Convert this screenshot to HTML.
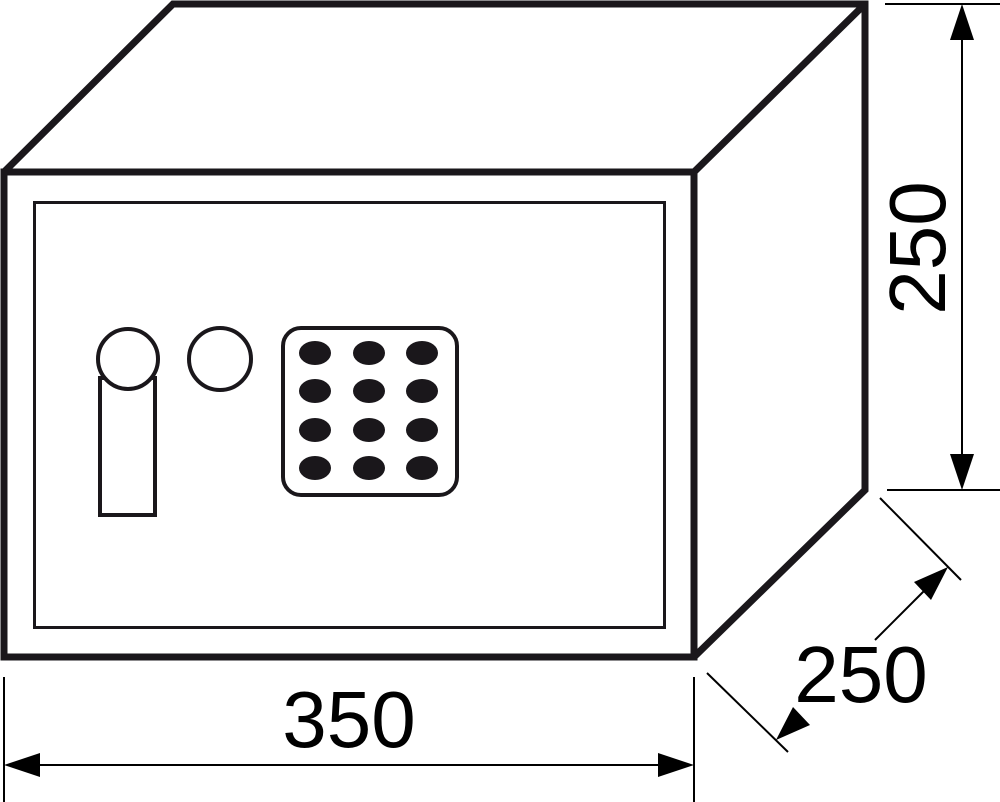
<!DOCTYPE html>
<html><head><meta charset="utf-8"><style>html,body{margin:0;padding:0;background:#fff}svg{display:block}</style></head>
<body>
<svg width="1000" height="802" viewBox="0 0 1000 802" xmlns="http://www.w3.org/2000/svg">
<g fill="none" stroke="#1a171b" stroke-linejoin="miter">
  <path d="M4 172 L173 4 L865 4 L865 490 L694 657" stroke-width="7"/>
  <path d="M694 172 L865 4" stroke-width="7"/>
  <rect x="4" y="172" width="690" height="485" stroke-width="7"/>
  <rect x="34.5" y="202.5" width="630" height="425" stroke-width="3"/>
  <rect x="100" y="378" width="55" height="137" stroke-width="4" fill="#fff"/>
  <circle cx="128" cy="359" r="30" stroke-width="4" fill="#fff"/>
  <circle cx="220" cy="359" r="31" stroke-width="4"/>
  <rect x="283" y="328" width="174" height="167" rx="18" stroke-width="4"/>
</g>
<g fill="#1a171b">
  <ellipse cx="315" cy="353" rx="16" ry="12"/><ellipse cx="369" cy="353" rx="16" ry="12"/><ellipse cx="422" cy="353" rx="16" ry="12"/>
  <ellipse cx="315" cy="391" rx="16" ry="12"/><ellipse cx="369" cy="391" rx="16" ry="12"/><ellipse cx="422" cy="391" rx="16" ry="12"/>
  <ellipse cx="315" cy="430" rx="16" ry="12"/><ellipse cx="369" cy="430" rx="16" ry="12"/><ellipse cx="422" cy="430" rx="16" ry="12"/>
  <ellipse cx="315" cy="468" rx="16" ry="12"/><ellipse cx="369" cy="468" rx="16" ry="12"/><ellipse cx="422" cy="468" rx="16" ry="12"/>
</g>
<g stroke="#000" stroke-width="2" fill="none">
  <line x1="885" y1="4" x2="1000" y2="4"/>
  <line x1="887" y1="490" x2="1000" y2="490"/>
  <line x1="962" y1="30" x2="962" y2="465"/>
  <line x1="4" y1="677" x2="4" y2="802"/>
  <line x1="694" y1="677" x2="694" y2="802"/>
  <line x1="30" y1="765" x2="670" y2="765"/>
  <line x1="880" y1="498" x2="961" y2="580"/>
  <line x1="707" y1="673" x2="788" y2="752"/>
  <line x1="875" y1="640" x2="935" y2="580"/>
</g>
<g fill="#000">
  <polygon points="962,4 950,40 974,40"/>
  <polygon points="962,490 950,454 974,454"/>
  <polygon points="4,765 40,753 40,777"/>
  <polygon points="694,765 658,753 658,777"/>
  <polygon points="948,567 914,582 931,600"/>
  <polygon points="776,740 810,725 793,707"/>
</g>
<g font-family="Liberation Sans, sans-serif" font-size="80" fill="#000">
  <text x="349" y="747" text-anchor="middle">350</text>
  <text x="861" y="702" text-anchor="middle">250</text>
  <text transform="translate(945,248) rotate(-90)" text-anchor="middle">250</text>
</g>
</svg>
</body></html>
